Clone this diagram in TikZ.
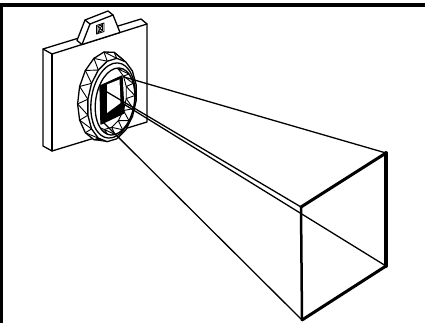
\documentclass[tikz,border=0pt]{standalone}
\begin{document}
\begin{tikzpicture}[x=1pt,y=-1pt,line join=round,line cap=round,
  edge/.style={line width=1.3pt},
  fine/.style={line width=0.9pt},
  lensplane/.style={shift={#1},x={(0.6pt,0.18pt)},y={(0pt,-1pt)}}]
\useasboundingbox (0,0) rectangle (425,323);

% page rule and margin line
\draw[line width=3.5pt,line cap=butt] (0,5) -- (425,5);
\draw[line width=2.6pt,line cap=butt] (1.3,5) -- (1.3,323);

% camera body
\coordinate (btl) at (43,49);
\coordinate (ftl) at (52,54);
\coordinate (btr) at (141,19);
\coordinate (ftr) at (147,24);
\coordinate (fbr) at (147,122);
\coordinate (fbl) at (52,151);
\coordinate (bbl) at (43,146);
\filldraw[fill=white,edge] (btl) -- (btr) -- (ftr) -- (fbr) -- (fbl) -- (bbl) -- cycle;
\draw[edge] (btl) -- (ftl) -- (ftr);
\draw[edge] (ftl) -- (fbl);

% viewfinder hump
\coordinate (hbl) at (77,40.5);
\coordinate (hbt) at (85,20);
\coordinate (hbr) at (108,11);
\coordinate (hfl) at (82,44.5);
\coordinate (hft) at (90,24);
\coordinate (hfr) at (113,15);
\coordinate (hfb) at (120,32.5);
\filldraw[fill=white,edge] (hbl) -- (hbt) -- (hbr) -- (hfr) -- (hfb) -- (hfl) -- cycle;
\draw[edge] (hbt) -- (hft) -- (hfr);
\draw[edge] (hfl) -- (hft);
% window on the hump
\draw[fine] (96.5,25.5) coordinate (w1) -- (104,23) coordinate (w2)
  -- (104,31.5) coordinate (w3) -- (96.5,34) coordinate (w4) -- cycle;
\draw[fine] (98,26.5) -- (102.5,24.5) -- (102.5,30.5) -- (98,32.5) -- cycle;
\draw[fine] (98,26.5) -- (102.5,30.5) (102.5,24.5) -- (98,32.5);

% knurled focusing ring
\begin{scope}[lensplane={(104,96)}]
  \foreach \i in {0,...,15} \coordinate (kb\i) at ({22.5*\i}:44);
\end{scope}
\begin{scope}[lensplane={(112,100)}]
  \foreach \i in {0,...,15} \coordinate (kf\i) at ({22.5*\i+11.25}:41);
\end{scope}
\filldraw[fill=white,edge] (kb0) \foreach \i in {1,...,15}{ -- (kb\i)} -- cycle;
\foreach \i in {0,...,15}{
  \pgfmathtruncatemacro{\j}{mod(\i+1,16)}
  \draw[fine] (kb\i) -- (kf\i) -- (kb\j);
}
\filldraw[fill=white,edge] (kf0) \foreach \i in {1,...,15}{ -- (kf\i)} -- cycle;

% smooth front ring
\filldraw[fill=white,edge,lensplane={(113,100.5)}] (0,0) circle [radius=37];
\filldraw[fill=white,edge,lensplane={(115,101.5)}] (0,0) circle [radius=33];

% inner bore with serrated wall
\begin{scope}[lensplane={(115,101.5)}]
  \foreach \i in {0,...,15} \coordinate (ra\i) at ({22.5*\i}:33);
\end{scope}
\begin{scope}[lensplane={(108,98)}]
  \foreach \i in {0,...,15} \coordinate (rb\i) at ({22.5*\i+11.25}:31);
\end{scope}
\begin{scope}
  \clip[lensplane={(115,101.5)}] (0,0) circle [radius=33];
  \draw[fine] (rb0) \foreach \i in {1,...,15}{ -- (rb\i)} -- cycle;
  \foreach \i in {0,...,15}{
    \pgfmathtruncatemacro{\j}{mod(\i+1,16)}
    \draw[fine] (ra\i) -- (rb\i) -- (ra\j);
  }
\end{scope}

% aperture
\coordinate (a1) at (100,86);
\coordinate (a2) at (122,76);
\coordinate (a3) at (124,113);
\coordinate (a4) at (101,124);
\filldraw[edge] (a1) -- (a2) -- (a3) -- (a4) -- cycle;
\fill[white] (107,84.5) -- (119.5,79.5) -- (120.5,103) -- (107,113) -- cycle;

% field of view
\coordinate (sTR) at (124,77);
\coordinate (sTL) at (107,92);
\coordinate (sBR) at (122,103);
\coordinate (sBL) at (103,122);
\coordinate (TL) at (301,207);
\coordinate (TR) at (386,153);
\coordinate (BR) at (386,266);
\coordinate (BL) at (302,320);
\draw[edge] (sTR) -- (TR);
\draw[edge] (sTL) -- (TL);
\draw[edge] (sBR) -- (BR);
\draw[edge] (sBL) -- (BL);
\draw[line width=3pt] (TL) -- (TR);
\draw[line width=4pt] (TR) -- (BR);
\draw[line width=3pt] (BR) -- (BL);
\draw[line width=2.5pt] (BL) -- (TL);
\end{tikzpicture}
\end{document}
